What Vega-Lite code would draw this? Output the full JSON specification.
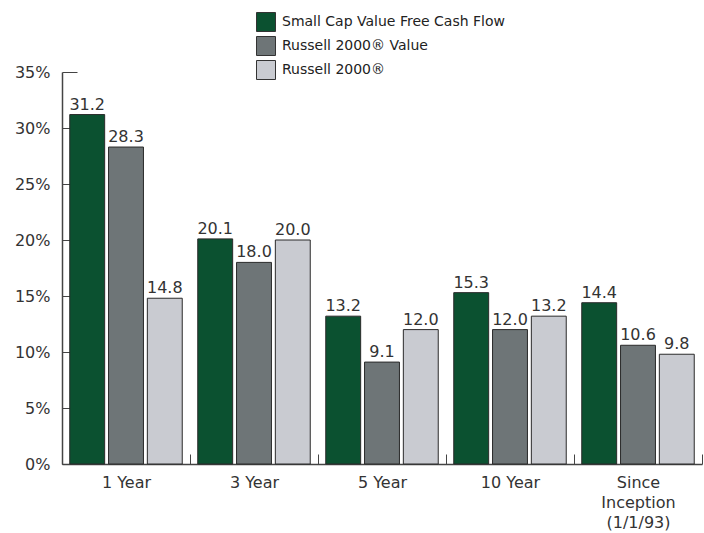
{
  "$schema": "https://vega.github.io/schema/vega-lite/v6.json",
  "width": 640,
  "height": 392,
  "autosize": {"type": "none"},
  "padding": {"left": 62, "top": 72, "right": 2, "bottom": 69},
  "background": "white",
  "data": {
    "values": [
      {"period": "1 Year", "series": "Small Cap Value Free Cash Flow", "value": 31.2},
      {"period": "1 Year", "series": "Russell 2000® Value", "value": 28.3},
      {"period": "1 Year", "series": "Russell 2000®", "value": 14.8},
      {"period": "3 Year", "series": "Small Cap Value Free Cash Flow", "value": 20.1},
      {"period": "3 Year", "series": "Russell 2000® Value", "value": 18.0},
      {"period": "3 Year", "series": "Russell 2000®", "value": 20.0},
      {"period": "5 Year", "series": "Small Cap Value Free Cash Flow", "value": 13.2},
      {"period": "5 Year", "series": "Russell 2000® Value", "value": 9.1},
      {"period": "5 Year", "series": "Russell 2000®", "value": 12.0},
      {"period": "10 Year", "series": "Small Cap Value Free Cash Flow", "value": 15.3},
      {"period": "10 Year", "series": "Russell 2000® Value", "value": 12.0},
      {"period": "10 Year", "series": "Russell 2000®", "value": 13.2},
      {"period": "Since|Inception|(1/1/93)", "series": "Small Cap Value Free Cash Flow", "value": 14.4},
      {"period": "Since|Inception|(1/1/93)", "series": "Russell 2000® Value", "value": 10.6},
      {"period": "Since|Inception|(1/1/93)", "series": "Russell 2000®", "value": 9.8}
    ]
  },
  "encoding": {
    "x": {
      "field": "period",
      "type": "nominal",
      "sort": ["1 Year", "3 Year", "5 Year", "10 Year", "Since|Inception|(1/1/93)"],
      "scale": {"paddingInner": 0, "paddingOuter": 0},
      "axis": {
        "title": null,
        "labelAngle": 0,
        "labelExpr": "split(datum.label, '|')",
        "labelFont": "DejaVu Sans",
        "labelFontSize": 16,
        "labelColor": "#333333",
        "labelLineHeight": 20,
        "labelPadding": 20,
        "labelBaseline": "top",
        "tickBand": "extent",
        "tickSize": -10,
        "tickColor": "#444444",
        "domainColor": "#444444",
        "domainWidth": 1.5
      }
    },
    "xOffset": {
      "field": "series",
      "type": "nominal",
      "sort": ["Small Cap Value Free Cash Flow", "Russell 2000® Value", "Russell 2000®"],
      "scale": {"paddingInner": 0.1, "paddingOuter": 0.2}
    },
    "y": {
      "field": "value",
      "type": "quantitative",
      "scale": {"domain": [0, 35]},
      "axis": {
        "title": null,
        "values": [0, 5, 10, 15, 20, 25, 30, 35],
        "labelExpr": "datum.value + '%'",
        "labelFont": "DejaVu Sans",
        "labelFontSize": 16,
        "labelColor": "#333333",
        "labelPadding": 27,
        "tickSize": -15,
        "tickColor": "#444444",
        "domainColor": "#444444",
        "domainWidth": 1.5,
        "grid": false
      }
    }
  },
  "layer": [
    {
      "mark": {"type": "bar", "stroke": "#2a2a2a", "strokeWidth": 1},
      "encoding": {
        "color": {
          "field": "series",
          "type": "nominal",
          "sort": ["Small Cap Value Free Cash Flow", "Russell 2000® Value", "Russell 2000®"],
          "scale": {
            "domain": ["Small Cap Value Free Cash Flow", "Russell 2000® Value", "Russell 2000®"],
            "range": ["#0b5130", "#6e7577", "#c9cbd1"]
          },
          "legend": {
            "title": null,
            "orient": "none",
            "legendX": 194,
            "legendY": -60,
            "padding": 0,
            "symbolType": "square",
            "symbolSize": 361,
            "symbolStrokeColor": "#333333",
            "symbolStrokeWidth": 1,
            "symbolOpacity": 1,
            "labelFont": "DejaVu Sans",
            "labelFontSize": 14,
            "labelColor": "#222222",
            "labelLimit": 400,
            "labelOffset": 6,
            "rowPadding": 0
          }
        }
      }
    },
    {
      "mark": {"type": "text", "baseline": "bottom", "dy": -2, "font": "DejaVu Sans", "fontSize": 16, "color": "#333333"},
      "encoding": {
        "text": {"field": "value", "type": "quantitative", "format": ".1f"},
        "detail": {"field": "series"}
      }
    }
  ],
  "config": {"view": {"stroke": null}}
}
